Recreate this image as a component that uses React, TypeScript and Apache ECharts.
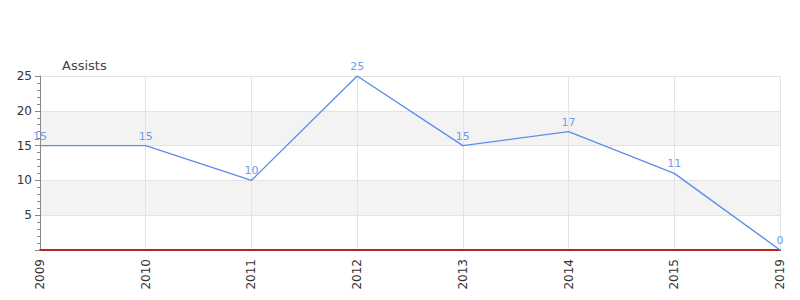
import React, { useEffect, useRef } from "react";
import * as echarts from "echarts";

const years = ["2009", "2010", "2011", "2012", "2013", "2014", "2015", "2019"];
const assists = [15, 15, 10, 25, 15, 17, 11, 0];
const seriesName = "Assists";

export default function App() {
  const ref = useRef<HTMLDivElement>(null);
  useEffect(() => {
    const chart = echarts.init(ref.current!, null, { renderer: "svg" });
    chart.setOption({
      animation: false,
      textStyle: { fontFamily: "DejaVu Sans" },
      grid: { left: 32, right: 12, top: 68, bottom: 50 },
      xAxis: {
        type: "category",
        data: years,
        boundaryGap: false,
        axisLine: { show: true, lineStyle: { color: "#555", width: 2 } },
        axisTick: { show: false },
        axisLabel: { rotate: 90, color: "#333", fontSize: 12, margin: 9 },
        splitLine: { show: true, lineStyle: { color: "#e3e3e3" } },
      },
      yAxis: {
        type: "value",
        min: 0,
        max: 25,
        interval: 5,
        name: seriesName,
        nameLocation: "end",
        nameGap: 4,
        nameTextStyle: { color: "#444", fontSize: 13, align: "left", padding: [0, 0, 0, 22] },
        axisLine: { show: true, lineStyle: { color: "#888" } },
        axisTick: { show: true, length: 5, lineStyle: { color: "#888" } },
        minorTick: { show: true, splitNumber: 5, length: 3, lineStyle: { color: "#888" } },
        axisLabel: { color: "#333", fontSize: 12, showMinLabel: false, margin: 8 },
        splitLine: { show: true, lineStyle: { color: "#e3e3e3" } },
        splitArea: { show: true, areaStyle: { color: ["#ffffff", "#f3f3f3"] } },
      },
      series: [
        {
          type: "line",
          name: seriesName,
          data: assists,
          showSymbol: true,
          symbol: "circle",
          symbolSize: 0,
          lineStyle: { color: "#5b8fe9", width: 1.4 },
          itemStyle: { color: "#5b8fe9" },
          label: { show: true, position: "top", color: "#6f9cec", fontSize: 11, distance: 4 },
          markLine: {
            silent: true,
            symbol: "none",
            label: { show: false },
            lineStyle: { color: "#cc1111", type: "solid", width: 0.8 },
            data: [{ yAxis: 0 }],
          },
        },
      ],
    });
    return () => chart.dispose();
  }, []);
  return <div ref={ref} style={{ width: 784, height: 292 }} />;
}
